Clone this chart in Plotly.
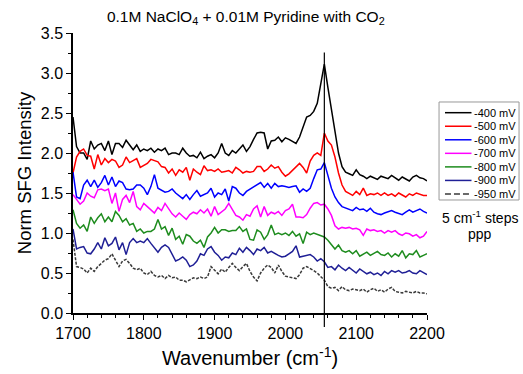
import plotly.graph_objects as go

wavenumber = list(range(1700, 2201, 5))

s_400 = [2.45,2.08,2.0,2.0,1.92,2.15,2.05,2.1,2.12,2.03,2.15,1.98,2.12,2.12,2.07,2.16,2.1,2.04,2.1,2.02,
         2.05,2.03,2.06,2.01,2.05,2.03,2.06,1.98,2.0,2.0,1.98,2.06,2.0,1.96,1.97,1.94,2.01,1.93,1.96,1.98,
         1.94,2.0,2.12,2.0,1.97,2.03,2.0,2.05,2.1,2.02,2.08,2.17,2.25,2.26,2.25,2.05,2.15,2.16,2.2,2.14,
         2.19,2.17,2.15,2.12,2.2,2.33,2.45,2.47,2.52,2.62,2.88,3.11,2.82,2.55,2.3,2.0,1.83,1.76,1.74,1.72,
         1.79,1.73,1.71,1.68,1.71,1.69,1.67,1.71,1.69,1.68,1.72,1.69,1.66,1.7,1.68,1.65,1.7,1.72,1.69,1.68,1.65]

s_500 = [1.75,1.95,2.02,2.05,1.97,1.96,1.8,1.98,1.85,1.93,1.88,1.92,1.9,1.82,1.85,1.95,1.88,1.9,1.93,1.82,
         1.85,1.87,1.92,1.9,1.89,1.83,1.82,1.75,1.8,1.72,1.79,1.76,1.82,1.66,1.8,1.76,1.73,1.84,1.78,1.79,
         1.77,1.8,1.76,1.77,1.78,1.75,1.82,1.79,1.75,1.77,1.76,1.77,1.83,1.83,1.77,1.8,1.85,1.81,1.83,1.76,
         1.71,1.74,1.78,1.82,1.87,1.82,1.75,1.9,1.97,2.0,1.97,2.25,2.15,2.1,1.95,1.75,1.6,1.52,1.49,1.47,
         1.52,1.48,1.56,1.47,1.49,1.48,1.5,1.47,1.5,1.47,1.49,1.46,1.5,1.48,1.45,1.49,1.47,1.5,1.48,1.47,1.47]

s_600 = [1.76,1.45,1.43,1.6,1.66,1.58,1.66,1.57,1.63,1.72,1.6,1.7,1.58,1.65,1.63,1.55,1.54,1.55,1.6,1.6,
         1.56,1.48,1.58,1.73,1.56,1.54,1.51,1.52,1.55,1.5,1.47,1.43,1.48,1.42,1.48,1.53,1.46,1.48,1.5,1.56,
         1.45,1.5,1.48,1.55,1.4,1.58,1.56,1.5,1.47,1.52,1.55,1.58,1.6,1.63,1.57,1.62,1.56,1.62,1.58,1.59,
         1.58,1.57,1.58,1.59,1.51,1.55,1.52,1.56,1.68,1.79,1.8,1.88,1.72,1.56,1.45,1.38,1.33,1.31,1.3,1.28,
         1.32,1.29,1.3,1.27,1.31,1.26,1.24,1.23,1.25,1.27,1.28,1.26,1.24,1.23,1.26,1.29,1.26,1.28,1.3,1.27,1.25]

s_700 = [1.48,1.42,1.36,1.4,1.5,1.46,1.44,1.54,1.55,1.53,1.55,1.37,1.5,1.27,1.42,1.47,1.38,1.52,1.33,1.29,
         1.37,1.33,1.29,1.25,1.32,1.28,1.37,1.31,1.24,1.2,1.25,1.21,1.17,1.23,1.26,1.24,1.29,1.25,1.3,1.21,
         1.33,1.23,1.26,1.3,1.37,1.3,1.22,1.2,1.16,1.23,1.21,1.3,1.34,1.2,1.33,1.22,1.26,1.24,1.27,1.22,
         1.28,1.3,1.36,1.2,1.2,1.19,1.23,1.31,1.37,1.38,1.35,1.36,1.3,1.22,1.09,1.05,1.07,1.06,1.07,1.05,
         1.06,1.04,0.97,1.05,1.03,1.04,1.02,1.03,1.0,1.03,1.01,1.03,0.99,0.97,1.0,0.99,0.96,0.98,0.94,0.96,1.02]

s_800 = [1.29,1.12,1.06,1.1,1.02,1.2,1.12,1.19,1.24,1.14,1.2,1.14,1.27,1.22,1.14,1.18,1.1,1.12,1.02,1.05,
         1.0,1.02,1.02,1.05,1.17,1.05,1.08,0.97,1.06,0.92,0.96,0.86,0.98,0.96,0.9,0.87,0.91,0.82,0.95,1.0,
         1.07,1.0,1.04,1.04,1.02,1.03,1.03,1.08,1.02,1.05,0.92,0.91,1.04,1.01,0.92,0.98,1.1,0.98,1.0,0.98,
         1.0,0.97,1.02,0.96,0.99,0.87,1.01,0.98,1.0,0.98,0.97,0.95,0.91,0.86,0.8,0.85,0.78,0.76,0.78,0.74,
         0.78,0.71,0.74,0.76,0.72,0.75,0.77,0.73,0.72,0.75,0.7,0.74,0.71,0.78,0.69,0.74,0.73,0.78,0.7,0.72,0.74]

s_900 = [1.05,0.8,0.82,0.83,0.75,0.74,0.8,0.88,0.8,0.94,0.84,0.87,0.95,0.79,0.88,0.73,0.88,0.93,0.88,0.9,
         0.88,0.93,0.87,0.82,0.76,0.82,0.85,0.82,0.74,0.65,0.67,0.7,0.66,0.58,0.6,0.65,0.74,0.72,0.8,0.83,
         0.76,0.72,0.66,0.7,0.69,0.75,0.73,0.81,0.76,0.82,0.78,0.73,0.8,0.78,0.82,0.75,0.77,0.74,0.72,0.7,
         0.71,0.74,0.77,0.84,0.7,0.71,0.72,0.73,0.7,0.65,0.68,0.64,0.57,0.58,0.54,0.6,0.56,0.53,0.57,0.53,
         0.5,0.55,0.52,0.49,0.51,0.48,0.5,0.47,0.52,0.49,0.53,0.51,0.53,0.5,0.51,0.53,0.5,0.49,0.53,0.5,0.48]

s_950 = [0.92,0.58,0.57,0.55,0.5,0.56,0.52,0.58,0.62,0.66,0.68,0.74,0.66,0.58,0.65,0.67,0.62,0.56,0.54,0.56,
         0.5,0.48,0.52,0.47,0.45,0.47,0.43,0.47,0.44,0.45,0.41,0.41,0.39,0.42,0.44,0.43,0.45,0.43,0.45,0.58,
         0.53,0.49,0.55,0.51,0.57,0.62,0.57,0.53,0.58,0.62,0.52,0.45,0.4,0.5,0.56,0.6,0.57,0.5,0.6,0.52,
         0.46,0.45,0.44,0.43,0.48,0.56,0.58,0.56,0.53,0.5,0.45,0.41,0.33,0.31,0.32,0.28,0.33,0.29,0.28,0.3,
         0.29,0.28,0.3,0.26,0.29,0.31,0.27,0.29,0.26,0.3,0.32,0.27,0.26,0.25,0.27,0.26,0.25,0.27,0.25,0.25,0.24]

series_names = ["-400 mV", "-500 mV", "-600 mV", "-700 mV", "-800 mV", "-900 mV", "-950 mV"]
series_values = [s_400, s_500, s_600, s_700, s_800, s_900, s_950]
series_colors = ["#000000", "#ff0000", "#0000ff", "#ff00ff", "#1e8c1e", "#1f1f96", "#3a3a3a"]
series_dash = ["solid"] * 6 + ["3px,1.5px"]
legend_dash = ["solid"] * 6 + ["6px,3px"]

peak_position = 2055

title_text = "0.1M NaClO<sub>4</sub> + 0.01M Pyridine with CO<sub>2</sub>"
x_title = "Wavenumber (cm<sup>-1</sup>)"
y_title = "Norm SFG Intensity"
note_lines = ["5 cm<sup>-1</sup> steps", "ppp"]

fig = go.Figure()
for name, vals, col, dash in zip(series_names, series_values, series_colors, series_dash):
    fig.add_trace(go.Scatter(
        x=wavenumber, y=vals, name=name, mode="lines",
        line=dict(color=col, width=1.5, dash=dash), showlegend=False,
    ))

fig.add_shape(type="line", xref="x", yref="paper", x0=peak_position, x1=peak_position,
              y0=-0.05, y1=0.93, line=dict(color="#000000", width=1.2))

# manual compact legend (paper coordinates)
fig.add_shape(type="rect", xref="paper", yref="paper", x0=1.034, x1=1.260, y0=0.4036, y1=0.7536,
              line=dict(color="#999999", width=1), fillcolor="white", layer="above")
for k, (name, col, dash) in enumerate(zip(series_names, series_colors, legend_dash)):
    yk = 0.7154 - 0.04839 * k
    fig.add_shape(type="line", xref="paper", yref="paper", x0=1.0508, x1=1.1257, y0=yk, y1=yk,
                  line=dict(color=col, width=1.5, dash=dash), layer="above")
    fig.add_annotation(text=name, xref="paper", yref="paper", x=1.128, y=yk, showarrow=False,
                       xanchor="left", yanchor="middle", font=dict(size=11))

font_family = "Liberation Sans, Arial, sans-serif"
fig.update_layout(
    width=523, height=374,
    margin=dict(l=73, r=96, t=33, b=61),
    paper_bgcolor="white", plot_bgcolor="white",
    font=dict(family=font_family, color="#000000", size=16),
    title=dict(text=title_text, x=0.47, xanchor="center", y=0.957, yanchor="middle",
               font=dict(size=15.5)),
    showlegend=False,
    xaxis=dict(range=[1700, 2200], tickvals=[1700, 1800, 1900, 2000, 2100, 2200],
               automargin=False,
               showgrid=False, zeroline=False, showline=True, linecolor="#000000", linewidth=1.5,
               ticks="outside", ticklen=5, tickwidth=1.2, tickcolor="#000000",
               minor=dict(dtick=20, ticks="outside", ticklen=3, tickwidth=1, tickcolor="#000000"),
               title=dict(text=x_title, font=dict(size=20), standoff=10),
               tickfont=dict(size=16)),
    yaxis=dict(range=[0, 3.5], dtick=0.5, tickformat=".1f", automargin=False,
               showgrid=False, zeroline=False, showline=True, linecolor="#000000", linewidth=1.5,
               ticks="outside", ticklen=5, tickwidth=1.2, tickcolor="#000000",
               minor=dict(dtick=0.25, ticks="outside", ticklen=3, tickwidth=1, tickcolor="#000000"),
               title=dict(text=y_title, font=dict(size=18.5), standoff=4),
               tickfont=dict(size=16)),
)

fig.add_annotation(text=note_lines[0], xref="paper", yref="paper", x=1.15, y=0.344,
                   showarrow=False, font=dict(size=14), xanchor="center", yanchor="middle")
fig.add_annotation(text=note_lines[1], xref="paper", yref="paper", x=1.15, y=0.282,
                   showarrow=False, font=dict(size=14), xanchor="center", yanchor="middle")

fig.write_html("out.html", config={"displayModeBar": False},
               post_script="document.body.style.margin='0';document.body.style.overflow='hidden';")
